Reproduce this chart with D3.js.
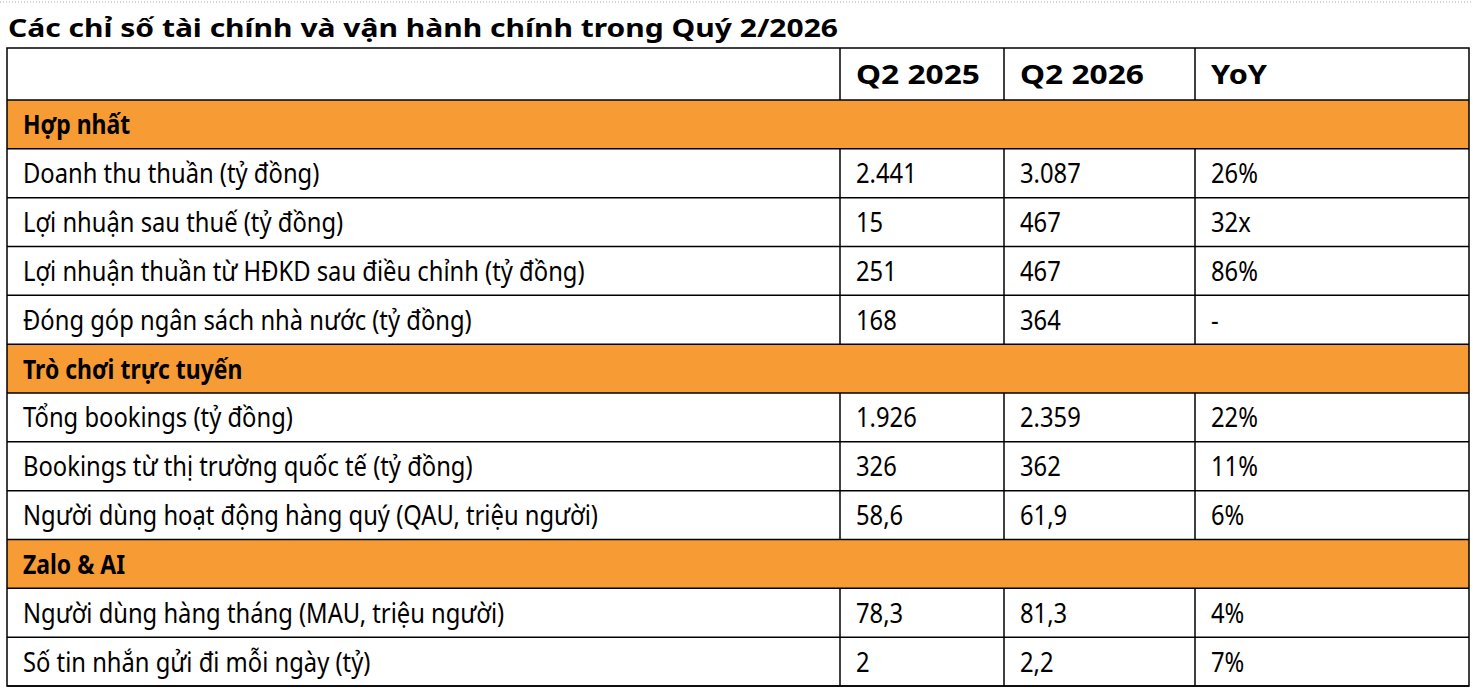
<!DOCTYPE html>
<html><head><meta charset="utf-8">
<script src="https://cdn.jsdelivr.net/npm/d3@7"></script>
<style>body{margin:0;background:#fff}</style>
</head><body>
<script>
var title = "Các chỉ số tài chính và vận hành chính trong Quý 2/2026";
var headers = ["", "Q2 2025", "Q2 2026", "YoY"];
var sections = ["Hợp nhất", "Trò chơi trực tuyến", "Zalo & AI"];
var labels = [
  ["Doanh thu thuần (tỷ đồng)", "Lợi nhuận sau thuế (tỷ đồng)", "Lợi nhuận thuần từ HĐKD sau điều chỉnh (tỷ đồng)", "Đóng góp ngân sách nhà nước (tỷ đồng)"],
  ["Tổng bookings (tỷ đồng)", "Bookings từ thị trường quốc tế (tỷ đồng)", "Người dùng hoạt động hàng quý (QAU, triệu người)"],
  ["Người dùng hàng tháng (MAU, triệu người)", "Số tin nhắn gửi đi mỗi ngày (tỷ)"]
];
var q2025 = [["2.441", "15", "251", "168"], ["1.926", "326", "58,6"], ["78,3", "2"]];
var q2026 = [["3.087", "467", "467", "364"], ["2.359", "362", "61,9"], ["81,3", "2,2"]];
var yoy = [["26%", "32x", "86%", "-"], ["22%", "11%", "6%"], ["4%", "7%"]];

// flatten into rows
var rows = [];
sections.forEach(function(s, i){
  rows.push({type:"section", cells:[s]});
  labels[i].forEach(function(l, j){
    rows.push({type:"data", cells:[l, q2025[i][j], q2026[i][j], yoy[i][j]]});
  });
});

var W = 1473, H = 690;
var svg = d3.select("body").append("svg").attr("width", W).attr("height", H);
var font = "Noto Sans";

svg.append("line").attr("x1",0).attr("x2",W).attr("y1",2).attr("y2",2)
  .attr("stroke","#aaa").attr("stroke-dasharray","1,2");

svg.append("text").attr("x",8).attr("y",37).text(title)
  .style("font-family",font).style("font-weight","bold").style("font-size","25px")
  .attr("textLength",830).attr("lengthAdjust","spacingAndGlyphs");

var colX = [7, 840, 1004, 1195, 1469];
var tableTop = 48, headH = 52, tableBottom = 686;
var y = d3.scaleBand().domain(d3.range(rows.length)).range([tableTop+headH, tableBottom]);

var fs = 27;
// header
headers.forEach(function(h, c){
  svg.append("text").attr("x", colX[c]+16).attr("y", tableTop+headH/2+10).text(h)
    .style("font-family",font).style("font-weight","bold").style("font-size",fs+"px")
    .attr("textLength", h ? (h=="YoY" ? 56 : 124) : null).attr("lengthAdjust","spacingAndGlyphs");
});

var g = svg.selectAll("g.row").data(rows).enter().append("g")
  .attr("transform", function(d,i){ return "translate(0,"+y(i)+")"; });

g.filter(function(d){return d.type=="section";}).append("rect")
  .attr("x",colX[0]).attr("width",colX[4]-colX[0]).attr("height",y.bandwidth())
  .attr("fill","#F79B34");

g.each(function(d){
  var sel = d3.select(this);
  d.cells.forEach(function(t, c){
    var tx = sel.append("text").attr("x", colX[c]+16).attr("y", y.bandwidth()/2+10).text(t)
      .style("font-family",font).style("font-size",fs+"px")
      .style("font-weight", d.type=="section" ? "bold" : "normal");
    var w = tx.node().getComputedTextLength();
    tx.attr("textLength", w*(d.type=="section" ? 0.85 : 0.88)).attr("lengthAdjust","spacingAndGlyphs");
  });
});

// grid lines
svg.append("rect").attr("x",colX[0]).attr("y",tableTop).attr("width",colX[4]-colX[0]).attr("height",tableBottom-tableTop)
  .attr("fill","none").attr("stroke","#000").attr("stroke-width",1.5);
var bounds = [tableTop+headH].concat(rows.map(function(d,i){return y(i)+y.bandwidth();}));
bounds.forEach(function(b){
  svg.append("line").attr("x1",colX[0]).attr("x2",colX[4]).attr("y1",b).attr("y2",b).attr("stroke","#000").attr("stroke-width",1.5);
});
// column lines: header and data rows only
[1,2,3].forEach(function(c){
  svg.append("line").attr("x1",colX[c]).attr("x2",colX[c]).attr("y1",tableTop).attr("y2",tableTop+headH).attr("stroke","#000").attr("stroke-width",1.5);
  rows.forEach(function(d,i){
    if (d.type=="data") svg.append("line").attr("x1",colX[c]).attr("x2",colX[c])
      .attr("y1",y(i)).attr("y2",y(i)+y.bandwidth()).attr("stroke","#000").attr("stroke-width",1.5);
  });
});
</script>
</body></html>
